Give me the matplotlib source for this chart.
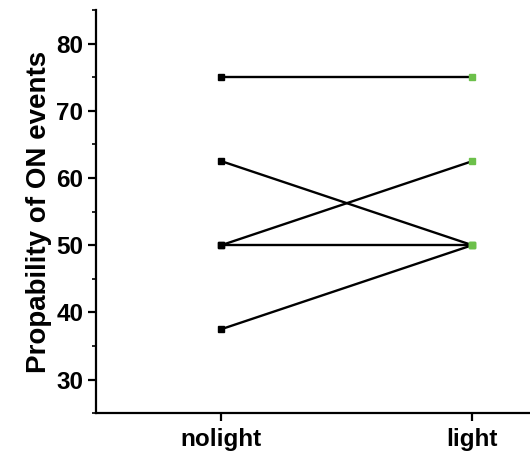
import numpy as np
import matplotlib.pyplot as plt
from matplotlib import font_manager
from matplotlib.ticker import MultipleLocator

conditions = ['nolight', 'light']
nolight_vals = [75, 62.5, 50, 50, 37.5]
light_vals = [75, 50, 62.5, 50, 50]

# pick the regular-width Liberation Sans bold file
def liberation(style):
    for path in font_manager.findSystemFonts():
        if path.endswith('LiberationSans-%s.ttf' % style):
            return font_manager.FontProperties(fname=path)
    return font_manager.FontProperties(family='DejaVu Sans',
                                       weight='bold' if style == 'Bold' else 'normal')

bold = liberation('Bold')

fig = plt.figure(figsize=(5.3, 4.55), dpi=100)
ax = fig.add_axes([0.181, 0.092, 0.819, 0.886])

x = np.arange(len(conditions))
for a, b in zip(nolight_vals, light_vals):
    ax.plot(x, [a, b], color='black', lw=1.7, zorder=2)
ax.plot(np.zeros(len(nolight_vals)), nolight_vals, 's', color='black',
        ms=5, ls='none', zorder=3)
ax.plot(np.ones(len(light_vals)), light_vals, 's', color='#6cc04a',
        ms=5, ls='none', zorder=3)

ax.set_xlim(-0.5, 1.23)
ax.set_ylim(25, 85)
ax.set_xticks(x)
ax.set_xticklabels(conditions)
ax.yaxis.set_major_locator(MultipleLocator(10))
ax.yaxis.set_minor_locator(MultipleLocator(5))
ax.set_yticks([30, 40, 50, 60, 70, 80])
for lbl in ax.get_xticklabels() + ax.get_yticklabels():
    lbl.set_fontproperties(bold)
    lbl.set_fontsize(17.5)
ax.set_ylabel('Propability of ON events', fontproperties=bold,
              fontsize=20, labelpad=3)

for side in ['top', 'right']:
    ax.spines[side].set_visible(False)
for side in ['left', 'bottom']:
    ax.spines[side].set_linewidth(1.6)
ax.tick_params(which='major', direction='out', length=6, width=1.6, pad=3)
ax.tick_params(which='minor', direction='out', length=3, width=1.2)
ax.tick_params(axis='x', which='minor', bottom=False)
ax.tick_params(axis='x', pad=5)

fig.savefig('out.png', dpi=100)
